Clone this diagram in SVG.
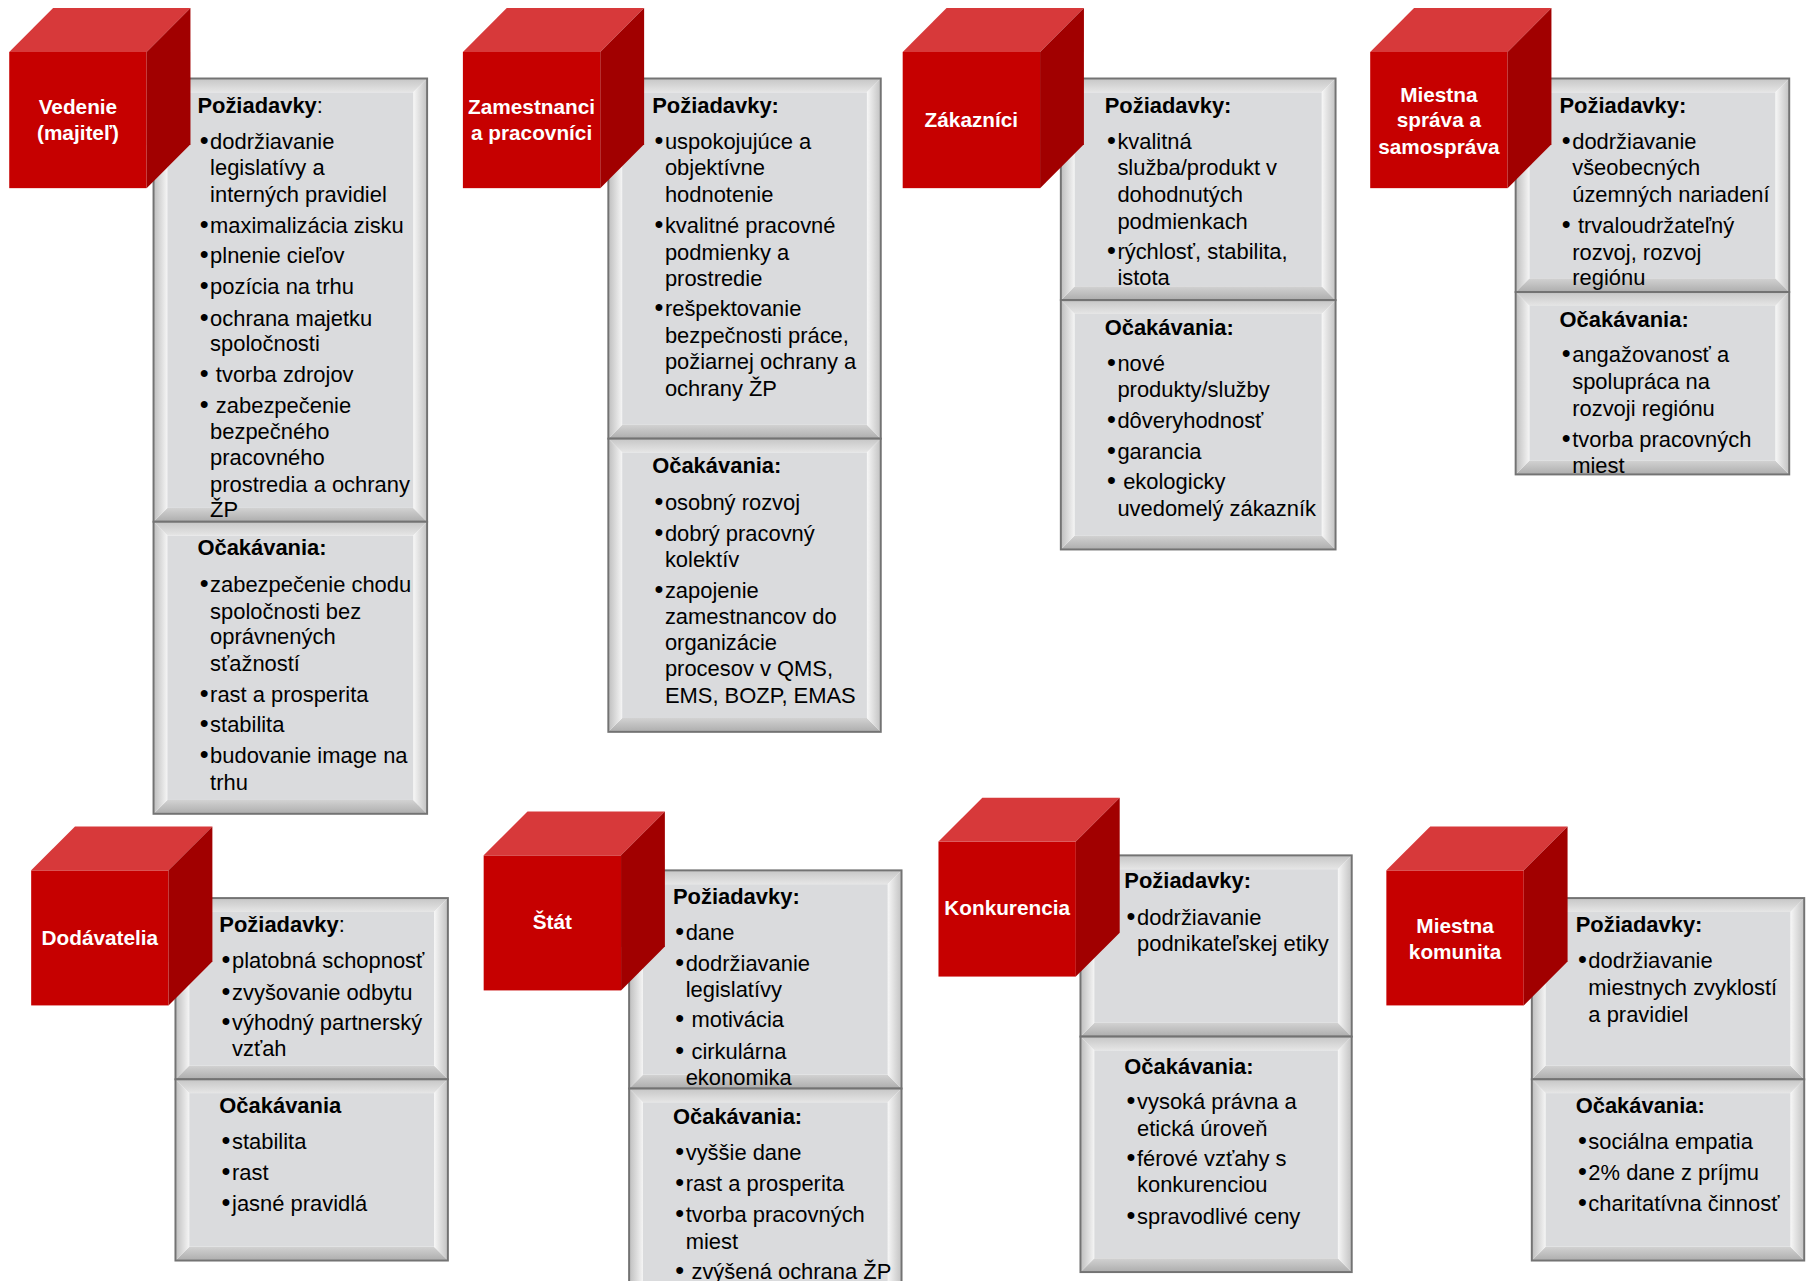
<svg xmlns="http://www.w3.org/2000/svg" width="1810" height="1281" viewBox="0 0 1810 1281">
<defs>
<linearGradient id="gT" x1="0" y1="0" x2="0" y2="1"><stop offset="0" stop-color="#c6c6c6"/><stop offset="1" stop-color="#e6e6e6"/></linearGradient>
<linearGradient id="gB" x1="0" y1="0" x2="0" y2="1"><stop offset="0" stop-color="#d2d2d2"/><stop offset="1" stop-color="#adadad"/></linearGradient>
<linearGradient id="gL" x1="0" y1="0" x2="1" y2="0"><stop offset="0" stop-color="#bebebe"/><stop offset="1" stop-color="#f5f5f5"/></linearGradient>
<linearGradient id="gR" x1="0" y1="0" x2="1" y2="0"><stop offset="0" stop-color="#f7f7f7"/><stop offset="1" stop-color="#c2c2c2"/></linearGradient>
</defs>
<style>
.t{font-family:"Liberation Sans",Arial,sans-serif;font-size:19px;fill:#000}
.t > tspan:first-child:not(.n){font-size:22px}
.h{font-weight:bold}
.n{font-weight:normal}
.lbl{font-family:"Liberation Sans",Arial,sans-serif;font-size:18px;font-weight:bold;fill:#fff;text-anchor:middle}
.bt{fill:url(#gT)}.bb{fill:url(#gB)}.bl{fill:url(#gL)}.br{fill:url(#gR)}
.face{fill:#dadbdd}
.ol{fill:none;stroke:#737373;stroke-width:1.7}
.front{fill:#c60000}.top{fill:#d7393a}.side{fill:#a10000}
</style>
<rect width="1810" height="1281" fill="#fff"/>
<g transform="scale(1.154337)">

<g id="node-vedenie">
<g id="vedenie-poziadavky">
<polygon class="bt" points="133,68 370,68 358,80 145,80"/><polygon class="bb" points="133,452 370,452 358,440 145,440"/><polygon class="bl" points="133,68 145,80 145,440 133,452"/><polygon class="br" points="370,68 358,80 358,440 370,452"/><rect class="face" x="145" y="80" width="213" height="360"/><rect class="ol" x="133" y="68" width="237" height="384"/>
<text class="t h" x="171" y="98">Požiadavky<tspan class="n">:</tspan></text>
<text class="t" y="129"><tspan x="173">•</tspan><tspan x="182">dodržiavanie</tspan></text>
<text class="t" x="182" y="152">legislatívy a</text>
<text class="t" x="182" y="175">interných pravidiel</text>
<text class="t" y="202"><tspan x="173">•</tspan><tspan x="182">maximalizácia zisku</tspan></text>
<text class="t" y="228"><tspan x="173">•</tspan><tspan x="182">plnenie cieľov</tspan></text>
<text class="t" y="255"><tspan x="173">•</tspan><tspan x="182">pozícia na trhu</tspan></text>
<text class="t" y="282"><tspan x="173">•</tspan><tspan x="182">ochrana majetku</tspan></text>
<text class="t" x="182" y="304">spoločnosti</text>
<text class="t" y="331"><tspan x="173">•</tspan><tspan x="187">tvorba zdrojov</tspan></text>
<text class="t" y="358"><tspan x="173">•</tspan><tspan x="187">zabezpečenie</tspan></text>
<text class="t" x="182" y="380">bezpečného</text>
<text class="t" x="182" y="403">pracovného</text>
<text class="t" x="182" y="426">prostredia a ochrany</text>
<text class="t" x="182" y="448">ŽP</text>
</g>
<g id="vedenie-ocakavania">
<polygon class="bt" points="133,452 370,452 358,464 145,464"/><polygon class="bb" points="133,705 370,705 358,693 145,693"/><polygon class="bl" points="133,452 145,464 145,693 133,705"/><polygon class="br" points="370,452 358,464 358,693 370,705"/><rect class="face" x="145" y="464" width="213" height="229"/><rect class="ol" x="133" y="452" width="237" height="253"/>
<text class="t h" x="171" y="481">Očakávania:</text>
<text class="t" y="513"><tspan x="173">•</tspan><tspan x="182">zabezpečenie chodu</tspan></text>
<text class="t" x="182" y="536">spoločnosti bez</text>
<text class="t" x="182" y="558">oprávnených</text>
<text class="t" x="182" y="581">sťažností</text>
<text class="t" y="608"><tspan x="173">•</tspan><tspan x="182">rast a prosperita</tspan></text>
<text class="t" y="634"><tspan x="173">•</tspan><tspan x="182">stabilita</tspan></text>
<text class="t" y="661"><tspan x="173">•</tspan><tspan x="182">budovanie image na</tspan></text>
<text class="t" x="182" y="684">trhu</text>
</g>
<g id="vedenie-cube">
<rect class="front" x="8" y="45" width="119" height="118"/><polygon class="top" points="8,45 46,7 165,7 127,45"/><polygon class="side" points="127,45 165,7 165,125 127,163"/>
<text class="lbl" x="67.5" y="99">Vedenie</text>
<text class="lbl" x="67.5" y="121">(majiteľ)</text>
</g>
</g>

<g id="node-zamestnanci">
<g id="zamestnanci-poziadavky">
<polygon class="bt" points="527,68 763,68 751,80 539,80"/><polygon class="bb" points="527,380 763,380 751,368 539,368"/><polygon class="bl" points="527,68 539,80 539,368 527,380"/><polygon class="br" points="763,68 751,80 751,368 763,380"/><rect class="face" x="539" y="80" width="212" height="288"/><rect class="ol" x="527" y="68" width="236" height="312"/>
<text class="t h" x="565" y="98">Požiadavky:</text>
<text class="t" y="129"><tspan x="567">•</tspan><tspan x="576">uspokojujúce a</tspan></text>
<text class="t" x="576" y="152">objektívne</text>
<text class="t" x="576" y="175">hodnotenie</text>
<text class="t" y="202"><tspan x="567">•</tspan><tspan x="576">kvalitné pracovné</tspan></text>
<text class="t" x="576" y="225">podmienky a</text>
<text class="t" x="576" y="248">prostredie</text>
<text class="t" y="274"><tspan x="567">•</tspan><tspan x="576">rešpektovanie</tspan></text>
<text class="t" x="576" y="297">bezpečnosti práce,</text>
<text class="t" x="576" y="320">požiarnej ochrany a</text>
<text class="t" x="576" y="343">ochrany ŽP</text>
</g>
<g id="zamestnanci-ocakavania">
<polygon class="bt" points="527,380 763,380 751,392 539,392"/><polygon class="bb" points="527,634 763,634 751,622 539,622"/><polygon class="bl" points="527,380 539,392 539,622 527,634"/><polygon class="br" points="763,380 751,392 751,622 763,634"/><rect class="face" x="539" y="392" width="212" height="230"/><rect class="ol" x="527" y="380" width="236" height="254"/>
<text class="t h" x="565" y="410">Očakávania:</text>
<text class="t" y="442"><tspan x="567">•</tspan><tspan x="576">osobný rozvoj</tspan></text>
<text class="t" y="469"><tspan x="567">•</tspan><tspan x="576">dobrý pracovný</tspan></text>
<text class="t" x="576" y="491">kolektív</text>
<text class="t" y="518"><tspan x="567">•</tspan><tspan x="576">zapojenie</tspan></text>
<text class="t" x="576" y="541">zamestnancov do</text>
<text class="t" x="576" y="563">organizácie</text>
<text class="t" x="576" y="586">procesov v QMS,</text>
<text class="t" x="576" y="609">EMS, BOZP, EMAS</text>
</g>
<g id="zamestnanci-cube">
<rect class="front" x="401" y="45" width="119" height="118"/><polygon class="top" points="401,45 439,7 558,7 520,45"/><polygon class="side" points="520,45 558,7 558,125 520,163"/>
<text class="lbl" x="460.5" y="99">Zamestnanci</text>
<text class="lbl" x="460.5" y="121">a pracovníci</text>
</g>
</g>

<g id="node-zakaznici">
<g id="zakaznici-poziadavky">
<polygon class="bt" points="919,68 1157,68 1145,80 931,80"/><polygon class="bb" points="919,260 1157,260 1145,248 931,248"/><polygon class="bl" points="919,68 931,80 931,248 919,260"/><polygon class="br" points="1157,68 1145,80 1145,248 1157,260"/><rect class="face" x="931" y="80" width="214" height="168"/><rect class="ol" x="919" y="68" width="238" height="192"/>
<text class="t h" x="957" y="98">Požiadavky:</text>
<text class="t" y="129"><tspan x="959">•</tspan><tspan x="968">kvalitná</tspan></text>
<text class="t" x="968" y="152">služba/produkt v</text>
<text class="t" x="968" y="175">dohodnutých</text>
<text class="t" x="968" y="198">podmienkach</text>
<text class="t" y="224"><tspan x="959">•</tspan><tspan x="968">rýchlosť, stabilita,</tspan></text>
<text class="t" x="968" y="247">istota</text>
</g>
<g id="zakaznici-ocakavania">
<polygon class="bt" points="919,260 1157,260 1145,272 931,272"/><polygon class="bb" points="919,476 1157,476 1145,464 931,464"/><polygon class="bl" points="919,260 931,272 931,464 919,476"/><polygon class="br" points="1157,260 1145,272 1145,464 1157,476"/><rect class="face" x="931" y="272" width="214" height="192"/><rect class="ol" x="919" y="260" width="238" height="216"/>
<text class="t h" x="957" y="290">Očakávania:</text>
<text class="t" y="321"><tspan x="959">•</tspan><tspan x="968">nové</tspan></text>
<text class="t" x="968" y="344">produkty/služby</text>
<text class="t" y="371"><tspan x="959">•</tspan><tspan x="968">dôveryhodnosť</tspan></text>
<text class="t" y="398"><tspan x="959">•</tspan><tspan x="968">garancia</tspan></text>
<text class="t" y="424"><tspan x="959">•</tspan><tspan x="973">ekologicky</tspan></text>
<text class="t" x="968" y="447">uvedomelý zákazník</text>
</g>
<g id="zakaznici-cube">
<rect class="front" x="782" y="45" width="119" height="118"/><polygon class="top" points="782,45 820,7 939,7 901,45"/><polygon class="side" points="901,45 939,7 939,125 901,163"/>
<text class="lbl" x="841.5" y="110">Zákazníci</text>
</g>
</g>

<g id="node-miestna-sprava">
<g id="sprava-poziadavky">
<polygon class="bt" points="1313,68 1550,68 1538,80 1325,80"/><polygon class="bb" points="1313,253 1550,253 1538,241 1325,241"/><polygon class="bl" points="1313,68 1325,80 1325,241 1313,253"/><polygon class="br" points="1550,68 1538,80 1538,241 1550,253"/><rect class="face" x="1325" y="80" width="213" height="161"/><rect class="ol" x="1313" y="68" width="237" height="185"/>
<text class="t h" x="1351" y="98">Požiadavky:</text>
<text class="t" y="129"><tspan x="1353">•</tspan><tspan x="1362">dodržiavanie</tspan></text>
<text class="t" x="1362" y="152">všeobecných</text>
<text class="t" x="1362" y="175">územných nariadení</text>
<text class="t" y="202"><tspan x="1353">•</tspan><tspan x="1367">trvaloudržateľný</tspan></text>
<text class="t" x="1362" y="225">rozvoj, rozvoj</text>
<text class="t" x="1362" y="247">regiónu</text>
</g>
<g id="sprava-ocakavania">
<polygon class="bt" points="1313,253 1550,253 1538,265 1325,265"/><polygon class="bb" points="1313,411 1550,411 1538,399 1325,399"/><polygon class="bl" points="1313,253 1325,265 1325,399 1313,411"/><polygon class="br" points="1550,253 1538,265 1538,399 1550,411"/><rect class="face" x="1325" y="265" width="213" height="134"/>
<text class="t h" x="1351" y="283">Očakávania:</text>
<text class="t" y="314"><tspan x="1353">•</tspan><tspan x="1362">angažovanosť a</tspan></text>
<text class="t" x="1362" y="337">spolupráca na</text>
<text class="t" x="1362" y="360">rozvoji regiónu</text>
<text class="t" y="387"><tspan x="1353">•</tspan><tspan x="1362">tvorba pracovných</tspan></text>
<text class="t" x="1362" y="410">miest</text>
<rect class="ol" x="1313" y="253" width="237" height="158"/>
</g>
<g id="sprava-cube">
<rect class="front" x="1187" y="45" width="119" height="118"/><polygon class="top" points="1187,45 1225,7 1344,7 1306,45"/><polygon class="side" points="1306,45 1344,7 1344,125 1306,163"/>
<text class="lbl" x="1246.5" y="88">Miestna</text>
<text class="lbl" x="1246.5" y="110">správa a</text>
<text class="lbl" x="1246.5" y="133">samospráva</text>
</g>
</g>

<g id="node-dodavatelia">
<g id="dodavatelia-poziadavky">
<polygon class="bt" points="152,778 388,778 376,790 164,790"/><polygon class="bb" points="152,935 388,935 376,923 164,923"/><polygon class="bl" points="152,778 164,790 164,923 152,935"/><polygon class="br" points="388,778 376,790 376,923 388,935"/><rect class="face" x="164" y="790" width="212" height="133"/><rect class="ol" x="152" y="778" width="236" height="157"/>
<text class="t h" x="190" y="807">Požiadavky<tspan class="n">:</tspan></text>
<text class="t" y="839"><tspan x="192">•</tspan><tspan x="201">platobná schopnosť</tspan></text>
<text class="t" y="866"><tspan x="192">•</tspan><tspan x="201">zvyšovanie odbytu</tspan></text>
<text class="t" y="892"><tspan x="192">•</tspan><tspan x="201">výhodný partnerský</tspan></text>
<text class="t" x="201" y="915">vzťah</text>
</g>
<g id="dodavatelia-ocakavania">
<polygon class="bt" points="152,935 388,935 376,947 164,947"/><polygon class="bb" points="152,1092 388,1092 376,1080 164,1080"/><polygon class="bl" points="152,935 164,947 164,1080 152,1092"/><polygon class="br" points="388,935 376,947 376,1080 388,1092"/><rect class="face" x="164" y="947" width="212" height="133"/><rect class="ol" x="152" y="935" width="236" height="157"/>
<text class="t h" x="190" y="964">Očakávania</text>
<text class="t" y="995"><tspan x="192">•</tspan><tspan x="201">stabilita</tspan></text>
<text class="t" y="1022"><tspan x="192">•</tspan><tspan x="201">rast</tspan></text>
<text class="t" y="1049"><tspan x="192">•</tspan><tspan x="201">jasné pravidlá</tspan></text>
</g>
<g id="dodavatelia-cube">
<rect class="front" x="27" y="754" width="119" height="117"/><polygon class="top" points="27,754 65,716 184,716 146,754"/><polygon class="side" points="146,754 184,716 184,833 146,871"/>
<text class="lbl" x="86.5" y="819">Dodávatelia</text>
</g>
</g>

<g id="node-stat">
<g id="stat-poziadavky">
<polygon class="bt" points="545,754 781,754 769,766 557,766"/><polygon class="bb" points="545,943 781,943 769,931 557,931"/><polygon class="bl" points="545,754 557,766 557,931 545,943"/><polygon class="br" points="781,754 769,766 769,931 781,943"/><rect class="face" x="557" y="766" width="212" height="165"/><rect class="ol" x="545" y="754" width="236" height="189"/>
<text class="t h" x="583" y="783">Požiadavky:</text>
<text class="t" y="814"><tspan x="585">•</tspan><tspan x="594">dane</tspan></text>
<text class="t" y="841"><tspan x="585">•</tspan><tspan x="594">dodržiavanie</tspan></text>
<text class="t" x="594" y="864">legislatívy</text>
<text class="t" y="890"><tspan x="585">•</tspan><tspan x="599">motivácia</tspan></text>
<text class="t" y="917"><tspan x="585">•</tspan><tspan x="599">cirkulárna</tspan></text>
<text class="t" x="594" y="940">ekonomika</text>
</g>
<g id="stat-ocakavania">
<polygon class="bt" points="545,943 781,943 769,955 557,955"/><polygon class="bb" points="545,1125 781,1125 769,1113 557,1113"/><polygon class="bl" points="545,943 557,955 557,1113 545,1125"/><polygon class="br" points="781,943 769,955 769,1113 781,1125"/><rect class="face" x="557" y="955" width="212" height="158"/><rect class="ol" x="545" y="943" width="236" height="182"/>
<text class="t h" x="583" y="974">Očakávania:</text>
<text class="t" y="1005"><tspan x="585">•</tspan><tspan x="594">vyššie dane</tspan></text>
<text class="t" y="1032"><tspan x="585">•</tspan><tspan x="594">rast a prosperita</tspan></text>
<text class="t" y="1059"><tspan x="585">•</tspan><tspan x="594">tvorba pracovných</tspan></text>
<text class="t" x="594" y="1082">miest</text>
<text class="t" y="1108"><tspan x="585">•</tspan><tspan x="599">zvýšená ochrana ŽP</tspan></text>
</g>
<g id="stat-cube">
<rect class="front" x="419" y="741" width="119" height="117"/><polygon class="top" points="419,741 457,703 576,703 538,741"/><polygon class="side" points="538,741 576,703 576,820 538,858"/>
<text class="lbl" x="478.5" y="805">Štát</text>
</g>
</g>

<g id="node-konkurencia">
<g id="konkurencia-poziadavky">
<polygon class="bt" points="936,741 1171,741 1159,753 948,753"/><polygon class="bb" points="936,898 1171,898 1159,886 948,886"/><polygon class="bl" points="936,741 948,753 948,886 936,898"/><polygon class="br" points="1171,741 1159,753 1159,886 1171,898"/><rect class="face" x="948" y="753" width="211" height="133"/><rect class="ol" x="936" y="741" width="235" height="157"/>
<text class="t h" x="974" y="769">Požiadavky:</text>
<text class="t" y="801"><tspan x="976">•</tspan><tspan x="985">dodržiavanie</tspan></text>
<text class="t" x="985" y="824">podnikateľskej etiky</text>
</g>
<g id="konkurencia-ocakavania">
<polygon class="bt" points="936,898 1171,898 1159,910 948,910"/><polygon class="bb" points="936,1102 1171,1102 1159,1090 948,1090"/><polygon class="bl" points="936,898 948,910 948,1090 936,1102"/><polygon class="br" points="1171,898 1159,910 1159,1090 1171,1102"/><rect class="face" x="948" y="910" width="211" height="180"/><rect class="ol" x="936" y="898" width="235" height="204"/>
<text class="t h" x="974" y="930">Očakávania:</text>
<text class="t" y="961"><tspan x="976">•</tspan><tspan x="985">vysoká právna a</tspan></text>
<text class="t" x="985" y="984">etická úroveň</text>
<text class="t" y="1010"><tspan x="976">•</tspan><tspan x="985">férové vzťahy s</tspan></text>
<text class="t" x="985" y="1033">konkurenciou</text>
<text class="t" y="1060"><tspan x="976">•</tspan><tspan x="985">spravodlivé ceny</tspan></text>
</g>
<g id="konkurencia-cube">
<rect class="front" x="813" y="729" width="119" height="117"/><polygon class="top" points="813,729 851,691 970,691 932,729"/><polygon class="side" points="932,729 970,691 970,808 932,846"/>
<text class="lbl" x="872.5" y="793">Konkurencia</text>
</g>
</g>

<g id="node-miestna-komunita">
<g id="komunita-poziadavky">
<polygon class="bt" points="1327,778 1563,778 1551,790 1339,790"/><polygon class="bb" points="1327,935 1563,935 1551,923 1339,923"/><polygon class="bl" points="1327,778 1339,790 1339,923 1327,935"/><polygon class="br" points="1563,778 1551,790 1551,923 1563,935"/><rect class="face" x="1339" y="790" width="212" height="133"/><rect class="ol" x="1327" y="778" width="236" height="157"/>
<text class="t h" x="1365" y="807">Požiadavky:</text>
<text class="t" y="839"><tspan x="1367">•</tspan><tspan x="1376">dodržiavanie</tspan></text>
<text class="t" x="1376" y="862">miestnych zvyklostí</text>
<text class="t" x="1376" y="885">a pravidiel</text>
</g>
<g id="komunita-ocakavania">
<polygon class="bt" points="1327,935 1563,935 1551,947 1339,947"/><polygon class="bb" points="1327,1092 1563,1092 1551,1080 1339,1080"/><polygon class="bl" points="1327,935 1339,947 1339,1080 1327,1092"/><polygon class="br" points="1563,935 1551,947 1551,1080 1563,1092"/><rect class="face" x="1339" y="947" width="212" height="133"/><rect class="ol" x="1327" y="935" width="236" height="157"/>
<text class="t h" x="1365" y="964">Očakávania:</text>
<text class="t" y="995"><tspan x="1367">•</tspan><tspan x="1376">sociálna empatia</tspan></text>
<text class="t" y="1022"><tspan x="1367">•</tspan><tspan x="1376">2% dane z príjmu</tspan></text>
<text class="t" y="1049"><tspan x="1367">•</tspan><tspan x="1376">charitatívna činnosť</tspan></text>
</g>
<g id="komunita-cube">
<rect class="front" x="1201" y="754" width="119" height="117"/><polygon class="top" points="1201,754 1239,716 1358,716 1320,754"/><polygon class="side" points="1320,754 1358,716 1358,833 1320,871"/>
<text class="lbl" x="1260.5" y="808">Miestna</text>
<text class="lbl" x="1260.5" y="831">komunita</text>
</g>
</g>

</g>
</svg>
